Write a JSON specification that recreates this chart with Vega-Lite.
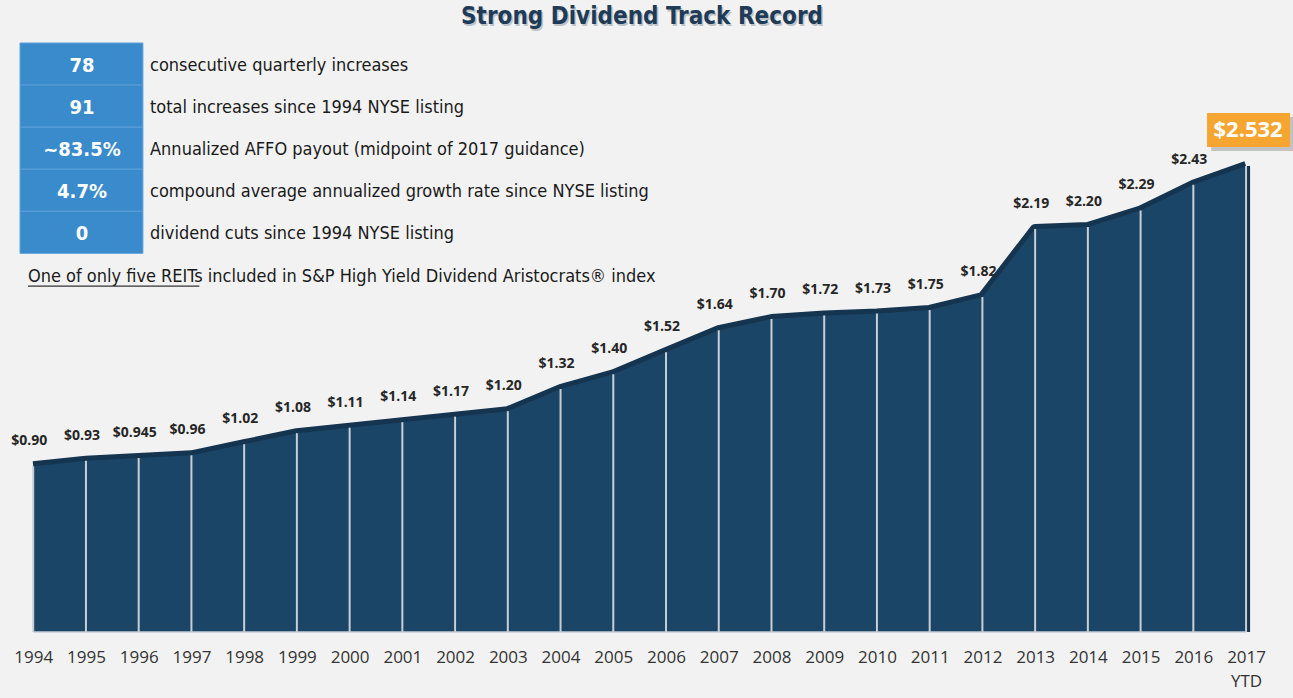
{
  "$schema": "https://vega.github.io/schema/vega-lite/v6.json",
  "width": 1293,
  "height": 589,
  "autosize": {"type": "none"},
  "padding": {"left": 0, "right": 0, "top": 43, "bottom": 66},
  "background": "#f2f2f2",
  "config": {"view": {"stroke": null}},
  "datasets": {
    "dividends": [
      {"year": 1994, "value": 0.90, "label": "$0.90"},
      {"year": 1995, "value": 0.93, "label": "$0.93"},
      {"year": 1996, "value": 0.945, "label": "$0.945"},
      {"year": 1997, "value": 0.96, "label": "$0.96"},
      {"year": 1998, "value": 1.02, "label": "$1.02"},
      {"year": 1999, "value": 1.08, "label": "$1.08"},
      {"year": 2000, "value": 1.11, "label": "$1.11"},
      {"year": 2001, "value": 1.14, "label": "$1.14"},
      {"year": 2002, "value": 1.17, "label": "$1.17"},
      {"year": 2003, "value": 1.20, "label": "$1.20"},
      {"year": 2004, "value": 1.32, "label": "$1.32"},
      {"year": 2005, "value": 1.40, "label": "$1.40"},
      {"year": 2006, "value": 1.52, "label": "$1.52"},
      {"year": 2007, "value": 1.64, "label": "$1.64"},
      {"year": 2008, "value": 1.70, "label": "$1.70"},
      {"year": 2009, "value": 1.72, "label": "$1.72"},
      {"year": 2010, "value": 1.73, "label": "$1.73"},
      {"year": 2011, "value": 1.75, "label": "$1.75"},
      {"year": 2012, "value": 1.82, "label": "$1.82"},
      {"year": 2013, "value": 2.19, "label": "$2.19"},
      {"year": 2014, "value": 2.20, "label": "$2.20"},
      {"year": 2015, "value": 2.29, "label": "$2.29"},
      {"year": 2016, "value": 2.43, "label": "$2.43"},
      {"year": 2017, "value": 2.532, "label": "$2.532"}
    ],
    "stats": [
      {"row": 1, "stat": "78", "text": "consecutive quarterly increases"},
      {"row": 2, "stat": "91", "text": "total increases since 1994 NYSE listing"},
      {"row": 3, "stat": "~83.5%", "text": "Annualized AFFO payout (midpoint of 2017 guidance)"},
      {"row": 4, "stat": "4.7%", "text": "compound average annualized growth rate since NYSE listing"},
      {"row": 5, "stat": "0", "text": "dividend cuts since 1994 NYSE listing"},
      {"row": 6, "stat": "", "text": "One of only five REITs included in S&P High Yield Dividend Aristocrats® index"}
    ]
  },
  "resolve": {"scale": {"y": "independent"}},
  "layer": [
    {
      "data": {"name": "dividends"},
      "encoding": {
        "x": {
          "field": "year",
          "type": "quantitative",
          "scale": {"domain": [1993.37, 2017.89], "nice": false, "zero": false},
          "axis": {
            "values": [1994, 1995, 1996, 1997, 1998, 1999, 2000, 2001, 2002, 2003, 2004, 2005, 2006, 2007, 2008, 2009, 2010, 2011, 2012, 2013, 2014, 2015, 2016, 2017],
            "format": "d",
            "labelExpr": "datum.value == 2017 ? ['2017', 'YTD'] : datum.label",
            "labelFont": "Open Sans",
            "labelFontSize": 17,
            "labelColor": "#333333",
            "labelPadding": 17,
            "labelLineHeight": 24,
            "labelFlush": false,
            "labelOverlap": false,
            "ticks": false,
            "domain": false,
            "grid": false,
            "title": null
          }
        },
        "y": {
          "field": "value",
          "type": "quantitative",
          "scale": {"domain": [0, 3.2], "nice": false, "zero": true},
          "axis": null
        }
      },
      "layer": [
        {"mark": {"type": "line", "color": "#15344f", "strokeWidth": 10, "strokeCap": "butt", "strokeJoin": "round"}},
        {
          "transform": [{"filter": "datum.year == 2017"}],
          "mark": {"type": "rule", "color": "#15344f", "strokeWidth": 8},
          "encoding": {"y2": {"datum": 0}}
        },
        {"mark": {"type": "area", "color": "#1b4566", "interpolate": "linear"}},
        {
          "mark": {"type": "rule", "color": "#c9ced4", "strokeWidth": 2},
          "encoding": {"y2": {"datum": 0}}
        },
        {
          "transform": [{"filter": "datum.year == 1994"}],
          "mark": {"type": "rule", "color": "#c9ced4", "strokeWidth": 1.5},
          "encoding": {"x": {"datum": 1994, "type": "quantitative"}, "x2": {"datum": 2017}, "y": {"datum": 0, "type": "quantitative"}}
        },
        {
          "transform": [{"filter": "datum.year < 2017"}],
          "mark": {"type": "text", "font": "Open Sans", "fontWeight": "bold", "fontSize": 14, "color": "#262626", "baseline": "middle", "dy": -25, "dx": -4},
          "encoding": {"text": {"field": "label"}}
        },
        {
          "transform": [{"filter": "datum.year == 2017"}],
          "mark": {"type": "point", "filled": true, "fill": "#8a8a8a", "opacity": 0.45, "strokeWidth": 0, "size": 6889, "shape": "M-0.84,-1.18H1.16V-0.36H-0.84Z"}
        },
        {
          "transform": [{"filter": "datum.year == 2017"}],
          "mark": {"type": "point", "filled": true, "fill": "#f7a531", "opacity": 1, "strokeWidth": 0, "size": 6889, "shape": "M-0.94,-1.277H1.06V-0.458H-0.94Z"}
        },
        {
          "transform": [{"filter": "datum.year == 2017"}],
          "mark": {"type": "text", "font": "Open Sans", "fontWeight": "bold", "fontSize": 22, "color": "#ffffff", "baseline": "middle", "dy": -36, "dx": 2},
          "encoding": {"text": {"field": "label"}}
        },
        {
          "transform": [{"filter": "datum.year == 1994"}],
          "mark": {"type": "text", "font": "Liberation Sans Narrow, DejaVu Sans Condensed, sans-serif", "fontWeight": "bold", "fontSize": 24, "color": "#8c96a0", "opacity": 0.5, "align": "center", "baseline": "middle", "dx": 1.5, "dy": 1.5},
          "encoding": {"x": {"datum": 2005.545, "type": "quantitative"}, "y": {"datum": 3.341, "type": "quantitative"}, "text": {"value": "Strong Dividend Track Record"}}
        },
        {
          "transform": [{"filter": "datum.year == 1994"}],
          "mark": {"type": "text", "font": "Liberation Sans Narrow, DejaVu Sans Condensed, sans-serif", "fontWeight": "bold", "fontSize": 24, "color": "#1f3b57", "align": "center", "baseline": "middle"},
          "encoding": {"x": {"datum": 2005.545, "type": "quantitative"}, "y": {"datum": 3.341, "type": "quantitative"}, "text": {"value": "Strong Dividend Track Record"}}
        }
      ]
    },
    {
      "data": {"name": "stats"},
      "encoding": {
        "y": {
          "field": "row",
          "type": "ordinal",
          "scale": {"type": "band", "domain": [1, 2, 3, 4, 5, 6, 7, 8, 9, 10, 11, 12, 13, 14], "paddingInner": 0, "paddingOuter": 0},
          "axis": null
        }
      },
      "layer": [
        {
          "transform": [{"filter": "datum.row <= 5"}],
          "mark": {"type": "rect", "fill": "#3a8bcb", "stroke": "#5a9fd8", "strokeWidth": 1},
          "encoding": {"x": {"datum": 1993.75, "type": "quantitative"}, "x2": {"datum": 1996.08}}
        },
        {
          "transform": [{"filter": "datum.row <= 5"}],
          "mark": {"type": "text", "font": "Liberation Sans Narrow, DejaVu Sans Condensed, sans-serif", "fontWeight": "bold", "fontSize": 20, "color": "#ffffff", "align": "center", "baseline": "middle", "dy": 2},
          "encoding": {"x": {"datum": 1994.925, "type": "quantitative"}, "text": {"field": "stat"}}
        },
        {
          "transform": [{"filter": "datum.row <= 5"}],
          "mark": {"type": "text", "font": "Liberation Sans Narrow, DejaVu Sans Condensed, sans-serif", "fontSize": 18, "color": "#1a1a1a", "align": "left", "baseline": "middle", "dy": 2},
          "encoding": {"x": {"datum": 1996.215, "type": "quantitative"}, "text": {"field": "text"}}
        },
        {
          "transform": [{"filter": "datum.row == 6"}],
          "mark": {"type": "text", "font": "Liberation Sans Narrow, DejaVu Sans Condensed, sans-serif", "fontSize": 18, "color": "#1a1a1a", "align": "left", "baseline": "middle", "dy": 3},
          "encoding": {"x": {"datum": 1993.9, "type": "quantitative"}, "text": {"field": "text"}}
        },
        {
          "transform": [{"filter": "datum.row == 6"}],
          "mark": {"type": "rule", "color": "#333333", "strokeWidth": 1.2},
          "encoding": {
            "y": {"field": "row", "type": "ordinal", "bandPosition": 0.78},
            "x": {"datum": 1993.9, "type": "quantitative"},
            "x2": {"datum": 1997.15}
          }
        }
      ]
    }
  ]
}
